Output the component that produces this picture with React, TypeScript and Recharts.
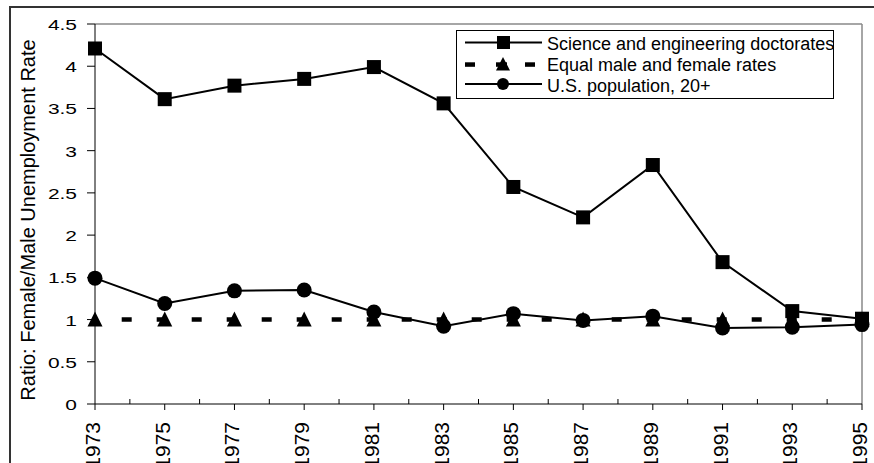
import React from 'react';
import { LineChart, Line, XAxis, YAxis, ReferenceLine, Customized } from 'recharts';

const years = [1973, 1975, 1977, 1979, 1981, 1983, 1985, 1987, 1989, 1991, 1993, 1995];
const scienceEngineering = [4.21, 3.61, 3.77, 3.85, 3.99, 3.56, 2.57, 2.21, 2.83, 1.68, 1.1, 1.01];
const equalRates = [1, 1, 1, 1, 1, 1, 1, 1, 1, 1, 1, 1];
const usPopulation = [1.49, 1.19, 1.34, 1.35, 1.09, 0.92, 1.07, 0.99, 1.04, 0.9, 0.91, 0.94];

const xTicks = [
  1973, 1974, 1975, 1976, 1977, 1978, 1979, 1980, 1981, 1982, 1983, 1984,
  1985, 1986, 1987, 1988, 1989, 1990, 1991, 1992, 1993, 1994, 1995,
];
const yTicks = [0, 0.5, 1, 1.5, 2, 2.5, 3, 3.5, 4, 4.5];
const seriesNames = [
  'Science and engineering doctorates',
  'Equal male and female rates',
  'U.S. population, 20+',
];
const yTitle = 'Ratio: Female/Male Unemployment Rate';

const data = years.map((year, i) => ({
  year,
  sci: scienceEngineering[i],
  eq: equalRates[i],
  us: usPopulation[i],
}));

const FONT = '"Liberation Sans", Arial, sans-serif';

const SquareDot = (p: any) => {
  if (p.cx == null || p.cy == null) return <g key={p.key} />;
  return <rect key={p.key} x={p.cx - 7} y={p.cy - 7} width={14} height={14} fill="#000" />;
};
const TriangleDot = (p: any) => {
  if (p.cx == null || p.cy == null) return <g key={p.key} />;
  const { cx, cy } = p;
  return (
    <polygon
      key={p.key}
      points={`${cx},${cy - 8} ${cx + 7.5},${cy + 7} ${cx - 7.5},${cy + 7}`}
      fill="#000"
    />
  );
};
const CircleDot = (p: any) => {
  if (p.cx == null || p.cy == null) return <g key={p.key} />;
  return <circle key={p.key} cx={p.cx} cy={p.cy} r={7.5} fill="#000" />;
};

const XTick = (props: any) => {
  const { x, y, payload } = props;
  const yr = payload.value;
  const major = yr % 2 === 1;
  if (!major) {
    return (
      <g>
        <line x1={x} x2={x} y1={y} y2={y - 5} stroke="#000" strokeWidth={1} />
      </g>
    );
  }
  const tx = x + 5;
  const ty = y + 18;
  return (
    <g>
      <line x1={x} x2={x} y1={y} y2={y + 6} stroke="#000" strokeWidth={1} />
      <text
        x={tx}
        y={ty}
        transform={`rotate(-90 ${tx} ${ty})`}
        textAnchor="end"
        fontSize={21}
        fill="#000"
        fontFamily={FONT}
      >
        {yr}
      </text>
    </g>
  );
};

const YTick = (props: any) => {
  const { x, y, payload } = props;
  return (
    <text
      transform={`translate(${x} ${y + 6}) scale(1.35 1)`}
      textAnchor="end"
      fontSize={15.5}
      fill="#000"
      fontFamily={FONT}
    >
      {String(payload.value)}
    </text>
  );
};

const Extras = () => {
  const rows = [42.5, 64.5, 84];
  const textY = [50, 71, 92];
  return (
    <g fontFamily={FONT}>
      <text
        x={35}
        y={220}
        transform="rotate(-90 35 220)"
        textAnchor="middle"
        fontSize={20}
        fill="#000"
      >
        {yTitle}
      </text>
      <rect x={456.5} y={30.5} width={377} height={68} fill="#fff" stroke="#000" strokeWidth={1} />
      {/* row 1 */}
      <line x1={465} x2={542} y1={rows[0]} y2={rows[0]} stroke="#000" strokeWidth={2} />
      <rect x={497} y={rows[0] - 6.5} width={13} height={13} fill="#000" />
      {/* row 2 */}
      <rect x={465} y={rows[1] - 2.2} width={10} height={4.5} fill="#000" />
      <rect x={496} y={rows[1] - 2.2} width={11} height={4.5} fill="#000" />
      <rect x={525} y={rows[1] - 2.2} width={10} height={4.5} fill="#000" />
      <polygon
        points={`503,${rows[1] - 7.5} 510,${rows[1] + 6} 496,${rows[1] + 6}`}
        fill="#000"
      />
      {/* row 3 */}
      <line x1={465} x2={542} y1={rows[2]} y2={rows[2]} stroke="#000" strokeWidth={2} />
      <circle cx={503} cy={rows[2]} r={6} fill="#000" />
      {seriesNames.map((n, i) => (
        <text key={n} x={547} y={textY[i]} fontSize={18} fill="#000">
          {n}
        </text>
      ))}
    </g>
  );
};

export default function App() {
  return (
    <div
      style={{
        position: 'absolute',
        left: 0,
        top: 0,
        width: 874,
        height: 463,
        overflow: 'hidden',
        background: '#fff',
        fontFamily: FONT,
      }}
    >
      <div
        style={{
          position: 'absolute',
          left: 9,
          top: 6,
          width: 1000,
          height: 1000,
          border: '2px solid #333',
          boxSizing: 'border-box',
        }}
      />
      <div style={{ position: 'absolute', left: 0, top: 0 }}>
        <LineChart
          width={874}
          height={463}
          data={data}
          margin={{ top: 24, right: 12, bottom: 0, left: 0 }}
        >
          <XAxis
            dataKey="year"
            type="number"
            domain={[1973, 1995]}
            ticks={xTicks}
            interval={0}
            height={59}
            tickSize={0}
            tickMargin={0}
            tickLine={false}
            axisLine={{ stroke: '#000', strokeWidth: 1 }}
            tick={<XTick />}
          />
          <YAxis
            type="number"
            domain={[0, 4.5]}
            ticks={yTicks}
            interval={0}
            width={95}
            tickSize={8}
            tickMargin={10}
            tickLine={{ stroke: '#000' }}
            axisLine={{ stroke: '#000', strokeWidth: 1 }}
            tick={<YTick />}
          />
          <ReferenceLine y={4.5} stroke="#888" strokeWidth={1.5} />
          <ReferenceLine x={1995} stroke="#888" strokeWidth={1.5} />
          <Line
            dataKey="sci"
            stroke="#000"
            strokeWidth={2}
            dot={SquareDot}
            activeDot={false}
            isAnimationActive={false}
          />
          <Line
            dataKey="eq"
            stroke="#000"
            strokeWidth={4.5}
            strokeDasharray="10 25"
            strokeDashoffset={8.3}
            dot={TriangleDot}
            activeDot={false}
            isAnimationActive={false}
          />
          <Line
            dataKey="us"
            stroke="#000"
            strokeWidth={2}
            dot={CircleDot}
            activeDot={false}
            isAnimationActive={false}
          />
          <Customized component={Extras} />
        </LineChart>
      </div>
    </div>
  );
}
